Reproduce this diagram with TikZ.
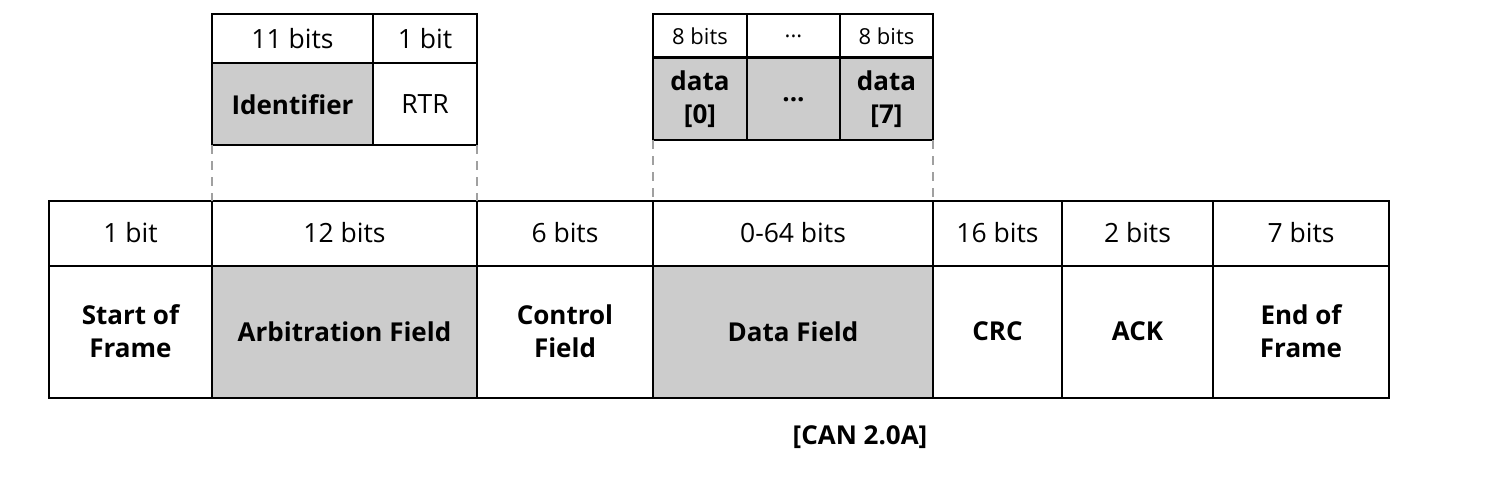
\documentclass[tikz,border=0pt]{standalone}
\usepackage{fontspec}
\setmainfont{Open Sans}
\definecolor{cellgray}{HTML}{CCCCCC}
\definecolor{guidegray}{HTML}{A0A0A0}
\begin{document}
\begin{tikzpicture}[x=1pt,y=-1pt,
  cell/.style={draw=black, line width=2pt, inner sep=0pt, outer sep=0pt, align=center,
    font=\fontsize{26.5}{30}\selectfont},
  small/.style={cell, font=\fontsize{22}{25}\selectfont},
  lbl/.style={cell, font=\fontsize{26}{33}\selectfont\bfseries},
  shaded/.style={fill=cellgray},
  guide/.style={draw=guidegray, line width=2pt, dash pattern=on 9pt off 7pt}]
\useasboundingbox (0,0) rectangle (1498,481);
% main frame: bit row
\node[cell, minimum width=163pt, minimum height=65pt] (b1) at (130.5,233) {1 bit};
\node[cell, minimum width=265pt, minimum height=65pt] (b2) at (344.5,233) {12 bits};
\node[cell, minimum width=176pt, minimum height=65pt] (b3) at (565,233) {6 bits};
\node[cell, minimum width=280pt, minimum height=65pt] (b4) at (793,233) {0-64 bits};
\node[cell, minimum width=129pt, minimum height=65pt] (b5) at (997.5,233) {16 bits};
\node[cell, minimum width=151pt, minimum height=65pt] (b6) at (1137.5,233) {2 bits};
\node[cell, minimum width=176pt, minimum height=65pt] (b7) at (1301,233) {7 bits};
% main frame: field row
\node[lbl, minimum width=163pt, minimum height=132pt] (f1) at (130.5,331.5) {Start of\\Frame};
\node[lbl, shaded, minimum width=265pt, minimum height=132pt] (f2) at (344.5,331.5) {Arbitration Field};
\node[lbl, minimum width=176pt, minimum height=132pt] (f3) at (565,331.5) {Control\\Field};
\node[lbl, shaded, minimum width=280pt, minimum height=132pt] (f4) at (793,331.5) {Data Field};
\node[lbl, minimum width=129pt, minimum height=132pt] (f5) at (997.5,331.5) {CRC};
\node[lbl, minimum width=151pt, minimum height=132pt] (f6) at (1137.5,331.5) {ACK};
\node[lbl, minimum width=176pt, minimum height=132pt] (f7) at (1301,331.5) {End of\\Frame};
% arbitration detail
\node[cell, minimum width=161pt, minimum height=49pt] (ab1) at (292.5,39) {11 bits};
\node[cell, minimum width=104pt, minimum height=49pt] (ab2) at (425,39) {1 bit};
\node[lbl, shaded, minimum width=161pt, minimum height=82pt] (id) at (292.5,104.5) {Identifier};
\node[cell, minimum width=104pt, minimum height=82pt] (rtr) at (425,104.5) {RTR};
% data detail
\node[small, minimum width=94pt, minimum height=43pt] (db1) at (700,36) {8 bits};
\node[small, minimum width=93pt, minimum height=43pt] (db2) at (793.5,36) {...};
\node[small, minimum width=93pt, minimum height=43pt] (db3) at (886.5,36) {8 bits};
\node[lbl, shaded, minimum width=94pt, minimum height=82pt] (d0) at (700,99.5) {data\\{}[0]};
\node[lbl, shaded, minimum width=93pt, minimum height=82pt] (dd) at (793.5,99.5) {...};
\node[lbl, shaded, minimum width=93pt, minimum height=82pt] (d7) at (886.5,99.5) {data\\{}[7]};
% guides
\draw[guide] (id.south west) -- (b2.north west);
\draw[guide] (rtr.south east) -- (b2.north east);
\draw[guide] (d0.south west) -- (b4.north west);
\draw[guide] (d7.south east) -- (b4.north east);
% caption
\node[font=\fontsize{26}{30}\selectfont\bfseries] (cap) at (860,437) {[CAN 2.0A]};
\end{tikzpicture}
\end{document}
